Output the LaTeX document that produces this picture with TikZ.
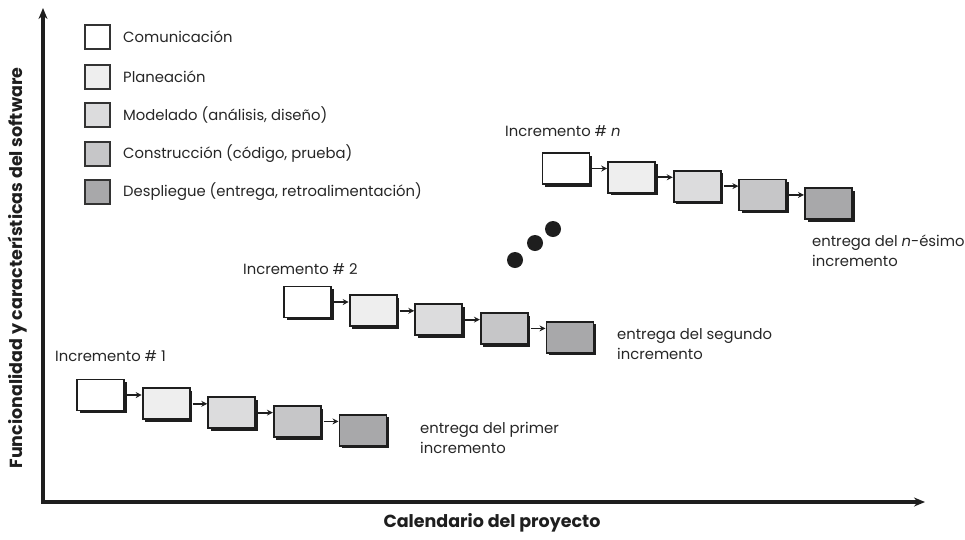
\documentclass[tikz,border=0pt]{standalone}
\usepackage{fontspec}
\setmainfont{Poppins}
\usetikzlibrary{shadows,arrows.meta}

\definecolor{txt}{HTML}{262626}
\definecolor{edge}{HTML}{1E1E1E}
\definecolor{comm}{HTML}{FFFFFF}
\definecolor{plan}{HTML}{EEEEEE}
\definecolor{model}{HTML}{DCDCDD}
\definecolor{constr}{HTML}{C6C6C8}
\definecolor{deploy}{HTML}{A8A8AA}

\begin{document}
\begin{tikzpicture}[x=1pt,y=-1pt,
  phase/.style={draw=edge, line width=1.8pt, minimum width=47pt, minimum height=31pt,
    inner sep=0pt, drop shadow={shadow xshift=2.6pt, shadow yshift=-2.6pt, fill=edge, opacity=1}},
  key/.style={draw=black!80, line width=1.4pt, minimum width=25pt, minimum height=24pt, inner sep=0pt},
  lbl/.style={font=\fontsize{14.8}{19.5}\selectfont, text=txt, anchor=base west, inner sep=0pt, align=left},
  keytext/.style={font=\fontsize{14.8}{16}\selectfont, text=txt, anchor=west, inner sep=0pt},
  link/.style={-{Stealth[length=6pt,width=6pt]}, draw=edge, line width=1.8pt},
  axis/.style={line width=3.5pt, draw=edge},
  dot/.style={circle, fill=edge, minimum size=16pt, inner sep=0pt},
  axlabel/.style={font=\bfseries\fontsize{17.5}{19}\selectfont, text=edge, inner sep=0pt}
]
\useasboundingbox (0,0) rectangle (965,539);

% legend
\foreach \k/\c/\y/\t in {1/comm/37/{Comunicación},
                         2/plan/77/{Planeación},
                         3/model/115/{Modelado (análisis, diseño)},
                         4/constr/154/{Construcción (código, prueba)},
                         5/deploy/192/{Despliegue (entrega, retroalimentación)}} {
  \node[key, fill=\c] (key\k) at (97.5,\y) {};
  \node[keytext] (keyt\k) at (123,\y) {\t};
}

% the three increments, five activities each
\foreach \p/\x/\y in {a/100.5/395, b/307.5/302, c/566/168.5} {
  \foreach \i/\c in {1/comm,2/plan,3/model,4/constr,5/deploy} {
    \node[phase, fill=\c] (\p\i) at ({\x+65.6*(\i-1)}, {\y+8.8*(\i-1)}) {};
  }
  \foreach \i [evaluate=\i as \j using int(\i+1)] in {1,...,4} {
    \draw[link] ([xshift=2pt]\p\i.east) -- (\p\j.west |- \p\i.east);
  }
}

% increment titles
\node[lbl] (ta) at (55,361) {Incremento \# 1};
\node[lbl] (tb) at (243,274) {Incremento \# 2};
\node[lbl] (tc) at (505,136) {Incremento \# \textit{n}};

% delivery notes (positioned by the baseline of their last line)
\node[lbl] (ea) at (420,453) {entrega del primer\\incremento};
\node[lbl] (eb) at (617,359) {entrega del segundo\\incremento};
\node[lbl] (ec) at (812,266) {entrega del \textit{n}-ésimo\\incremento};

% ellipsis between increments
\node[dot] (d1) at (515,260) {};
\node[dot] (d2) at (535,243) {};
\node[dot] (d3) at (553,229) {};

% axes
\coordinate (O) at (43,502);
\coordinate (ytip) at (43,8);
\coordinate (xtip) at (925,502);
\draw[axis, {Stealth[length=11pt,width=9pt]}-{Stealth[length=11pt,width=9pt]}] (ytip) -- (O) -- (xtip);

\node[axlabel, rotate=90] (ylab) at (18,268) {Funcionalidad y características del software};
\node[axlabel] (xlab) at (492,523) {Calendario del proyecto};
\end{tikzpicture}
\end{document}
